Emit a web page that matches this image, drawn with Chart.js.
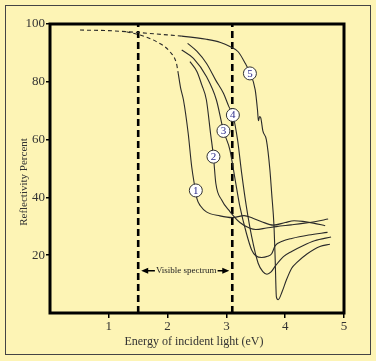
<!DOCTYPE html>
<html>
<head>
<meta charset="utf-8">
<script src="https://cdn.jsdelivr.net/npm/chart.js@4.4.0/dist/chart.umd.min.js"></script>
<style>
  html, body { margin: 0; padding: 0; background: #fdf4b5; }
  canvas { display: block; }
</style>
</head>
<body>
<canvas id="refl" width="376" height="361"></canvas>
<script>
// tick values
const xTicks = [1, 2, 3, 4, 5];
const yTicks = [20, 40, 60, 80, 100];

// visible spectrum limits (eV) and height of the arrow label
const visibleRange = [1.5, 3.1];
const spectrumY = 14.6;

// curve 1 (dashed part up to 2.18 eV)
const c1X = [1.3, 1.53, 1.81, 2.04, 2.15, 2.18, 2.22, 2.27, 2.35, 2.41, 2.46, 2.5, 2.56, 2.66, 2.89, 3.1, 3.3, 3.45, 3.6, 3.8, 4.0, 4.15, 4.3, 4.48, 4.68];
const c1Y = [97.3, 96.2, 93.9, 90.4, 86.4, 83, 78, 73.7, 62.2, 50.6, 44, 39.5, 37, 35, 33.6, 33, 33.7, 32.8, 31.6, 30.4, 31.3, 31.9, 31.7, 31.1, 30.2];
const c1DashEnd = 2.18;

// curve 2
const c2X = [2.38, 2.5, 2.58, 2.66, 2.73, 2.78, 2.82, 2.92, 3.06, 3.23, 3.4, 3.5, 3.68, 3.85, 4.1, 4.3, 4.5, 4.73];
const c2Y = [87, 83.5, 79, 73.7, 62.2, 54.1, 44.9, 39.1, 35.1, 31.3, 29.3, 28.9, 29.4, 29.9, 30.5, 31, 31.6, 32.5];

// curve 3
const c3X = [2.24, 2.44, 2.66, 2.83, 2.95, 3.06, 3.15, 3.23, 3.34, 3.43, 3.5, 3.6, 3.7, 3.77, 3.83, 3.95, 4.11, 4.4, 4.72];
const c3Y = [91, 88.1, 81.8, 73.7, 63.1, 56.4, 46, 36.8, 27.6, 21.8, 19.8, 19.2, 19.6, 20.5, 23.3, 24.8, 25.8, 27, 27.9];

// curve 4
const c4X = [2.34, 2.5, 2.66, 2.82, 2.95, 3.04, 3.11, 3.19, 3.26, 3.34, 3.43, 3.54, 3.62, 3.69, 3.76, 3.83, 3.97, 4.11, 4.3, 4.5, 4.78];
const c4Y = [93.3, 90.5, 86.4, 80.5, 76, 71.5, 68.5, 59.9, 48.3, 36.8, 26.4, 17.2, 14.3, 13.4, 14.2, 16.2, 19.5, 21.3, 23.3, 25, 26.3];

// curve 5 (dashed part up to 2.24 eV)
const c5X = [0.51, 1.0, 1.53, 1.9, 2.24, 2.66, 2.9, 3.06, 3.2, 3.32, 3.4, 3.49, 3.53, 3.545, 3.565, 3.585, 3.62, 3.68, 3.74, 3.77, 3.81, 3.83, 3.85, 3.88, 3.95, 4.02, 4.11, 4.2, 4.37, 4.59, 4.76];
const c5Y = [97.9, 97.7, 97.0, 96.4, 95.8, 94.7, 93.6, 92.2, 90.4, 86.4, 83.1, 77.2, 70, 66.5, 68, 67.5, 63, 59.9, 49.5, 41.4, 29.9, 18.3, 5.6, 4.6, 7.5, 11.4, 15.5, 17.5, 20.4, 23, 23.8];
const c5DashEnd = 2.24;

// circled curve numbers
const labelNums = ['1', '2', '3', '4', '5'];
const labelX = [2.48, 2.78, 2.95, 3.11, 3.40];
const labelY = [42.4, 54.1, 63.0, 68.5, 82.9];

const bg = '#fdf4b5';
const ink = '#2a2a2a';
const serif = '"Liberation Serif", "DejaVu Serif", serif';

function pts(xs, ys) {
  return xs.map((x, i) => ({x: x, y: ys[i]}));
}

function curve(xs, ys, dashEnd) {
  return {
    data: pts(xs, ys),
    showLine: true,
    borderColor: ink,
    borderWidth: 1.1,
    pointRadius: 0,
    cubicInterpolationMode: 'monotone',
    segment: {
      borderDash: ctx => (dashEnd && ctx.p1.parsed.x <= dashEnd) ? [4, 3] : undefined
    }
  };
}

function vLine(x) {
  return {
    data: [{x: x, y: 0}, {x: x, y: 100}],
    showLine: true,
    borderColor: '#000',
    borderWidth: 2.6,
    borderDash: [7, 4],
    pointRadius: 0,
    tension: 0
  };
}

const paper = {
  id: 'paper',
  beforeDraw(chart) {
    const c = chart.ctx;
    c.save();
    c.fillStyle = bg;
    c.fillRect(0, 0, chart.width, chart.height);
    c.strokeStyle = '#444';
    c.lineWidth = 1;
    c.strokeRect(5.5, 5.5, 365, 349);
    c.restore();
  },
  afterDraw(chart) {
    const c = chart.ctx;
    const a = chart.chartArea;
    const xs = chart.scales.x, ys = chart.scales.y;
    c.save();

    // plot frame
    c.strokeStyle = '#000';
    c.lineWidth = 3;
    c.strokeRect(a.left, a.top, a.right - a.left, a.bottom - a.top);

    // visible spectrum arrow
    const yA = ys.getPixelForValue(spectrumY);
    const l = xs.getPixelForValue(visibleRange[0]) + 3;
    const r = xs.getPixelForValue(visibleRange[1]) - 3;
    c.font = '9px ' + serif;
    const txt = 'Visible spectrum';
    const tw = c.measureText(txt).width;
    const mid = (l + r) / 2 + 1;
    c.fillStyle = '#222';
    c.textAlign = 'center';
    c.textBaseline = 'middle';
    c.fillText(txt, mid, yA);
    c.strokeStyle = '#000';
    c.lineWidth = 1.6;
    c.beginPath();
    c.moveTo(l + 4, yA); c.lineTo(mid - tw / 2 - 1, yA);
    c.moveTo(mid + tw / 2 + 1, yA); c.lineTo(r - 4, yA);
    c.stroke();
    c.fillStyle = '#000';
    c.beginPath();
    c.moveTo(l, yA); c.lineTo(l + 7, yA - 3); c.lineTo(l + 7, yA + 3); c.closePath();
    c.moveTo(r, yA); c.lineTo(r - 7, yA - 3); c.lineTo(r - 7, yA + 3); c.closePath();
    c.fill();

    // circled numbers
    c.font = '11px ' + serif;
    for (let i = 0; i < labelNums.length; i++) {
      const px = xs.getPixelForValue(labelX[i]);
      const py = ys.getPixelForValue(labelY[i]);
      c.beginPath();
      c.arc(px, py, 6.5, 0, Math.PI * 2);
      c.fillStyle = '#fff';
      c.fill();
      c.lineWidth = 1;
      c.strokeStyle = '#333';
      c.stroke();
      c.fillStyle = '#2a2a8a';
      c.fillText(labelNums[i], px, py + 0.5);
    }

    // axis titles
    c.fillStyle = '#333';
    c.font = '12px ' + serif;
    c.fillText('Energy of incident light (eV)', 194, 342);
    c.translate(24, 182);
    c.rotate(-Math.PI / 2);
    c.font = '11px ' + serif;
    c.fillText('Reflectivity Percent', 0, 0);
    c.restore();
  }
};

const tickColor = ctx => ctx.tick && ctx.tick.value === 0 ? 'rgba(0,0,0,0)' : '#000';

new Chart(document.getElementById('refl'), {
  type: 'scatter',
  data: {
    datasets: [
      curve(c1X, c1Y, c1DashEnd),
      curve(c2X, c2Y),
      curve(c3X, c3Y),
      curve(c4X, c4Y),
      curve(c5X, c5Y, c5DashEnd),
      vLine(visibleRange[0]),
      vLine(visibleRange[1])
    ]
  },
  options: {
    responsive: false,
    animation: false,
    events: [],
    layout: { padding: { left: 0, right: 32, top: 24, bottom: 0 } },
    plugins: { legend: { display: false }, tooltip: { enabled: false } },
    scales: {
      x: {
        type: 'linear', min: 0, max: 5,
        afterBuildTicks: s => { s.ticks = [0].concat(xTicks).map(v => ({value: v})); },
        afterFit: s => { s.height = 48; },
        border: { display: false },
        grid: { drawOnChartArea: false, drawTicks: true, tickLength: 5, color: tickColor, lineWidth: 1.5 },
        ticks: {
          color: '#333', padding: 1,
          font: { family: serif, size: 13 },
          callback: v => v === 0 ? '' : v
        }
      },
      y: {
        type: 'linear', min: 0, max: 100,
        afterBuildTicks: s => { s.ticks = [0].concat(yTicks).map(v => ({value: v})); },
        afterFit: s => { s.width = 50; },
        border: { display: false },
        grid: { drawOnChartArea: false, drawTicks: true, tickLength: 4, color: tickColor, lineWidth: 1.5 },
        ticks: {
          color: '#333', padding: 1,
          font: { family: serif, size: 13 },
          callback: v => v === 0 ? '' : v
        }
      }
    }
  },
  plugins: [paper]
});
</script>
</body>
</html>
